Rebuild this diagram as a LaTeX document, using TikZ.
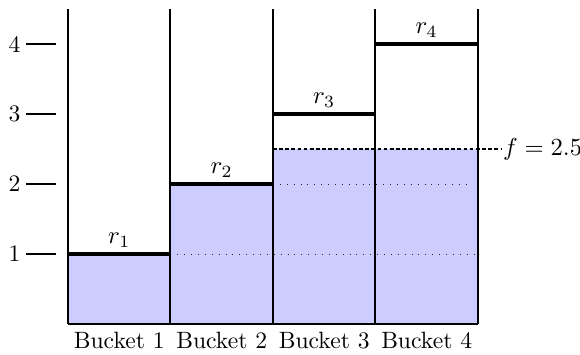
\documentclass[tikz,border=0pt]{standalone}
\usepackage{tikz}
\usetikzlibrary{positioning, calc}
\colorlet{LevelFill}{blue!20}

\begin{document}
\begin{tikzpicture}[
    every node/.style={font=\fontsize{9.6}{11.5}\selectfont},
    wall/.style={line width=0.8pt, black},
    rate/.style={line width=1.6pt, black},
    tickmark/.style={line width=0.8pt, black},
    level/.style={dash pattern=on 0.4pt off 2.4pt, line width=0.4pt, black!85},
    fair/.style={dash pattern=on 1.5pt off 1pt, line width=0.5pt, black},
    ratelbl/.style={above, inner sep=2pt},
    bucketlbl/.style={below, inner sep=3pt}
]
\def\bw{1.464}
\useasboundingbox (-0.971,-0.429) rectangle (7.314,4.629);

% ===================================================================
% FILLED LEVELS
% ===================================================================
\fill[LevelFill] (0,0) rectangle (\bw,1);
\fill[LevelFill] (\bw,0) rectangle (2*\bw,2);
\fill[LevelFill] (2*\bw,0) rectangle (4*\bw,2.5);

% ===================================================================
% DOTTED AND DASHED LEVELS
% ===================================================================
\draw[level] (\bw,1) -- (4*\bw,1);
\draw[level] (2*\bw,2) -- (4*\bw-0.1,2);
\coordinate (fstart) at (2*\bw,2.5);
\coordinate (fend) at (6.19,2.5);
\draw[fair] (fstart) -- (fend) node[right, inner sep=0.5pt] (flbl) {$f = 2.5$};

% ===================================================================
% AXIS TICKS
% ===================================================================
\foreach \i in {1,...,4} {
    \coordinate (ta\i) at (-0.6,\i);
    \coordinate (tb\i) at (-0.17,\i);
    \draw[tickmark] (ta\i) -- (tb\i);
    \node[left, inner sep=2pt] (tick\i) at (ta\i) {\i};
}

% ===================================================================
% BUCKETS
% ===================================================================
\foreach \i in {0,...,4} {
    \coordinate (bot\i) at (\i*\bw,0);
    \coordinate (top\i) at (\i*\bw,4.5);
    \draw[wall] (bot\i) -- (top\i);
}
\draw[wall] (bot0) -- (bot4);

\foreach \i in {1,...,4} {
    \pgfmathtruncatemacro{\j}{\i-1}
    \coordinate (rl\i) at (\j*\bw,\i);
    \coordinate (rr\i) at (\i*\bw,\i);
    \draw[rate] (rl\i) -- (rr\i)
        node[ratelbl, midway] (r\i) {$r_\i$};
    \node[bucketlbl] (bucket\i) at ($(bot\j)!0.5!(bot\i)$) {Bucket \i};
}

\end{tikzpicture}
\end{document}
